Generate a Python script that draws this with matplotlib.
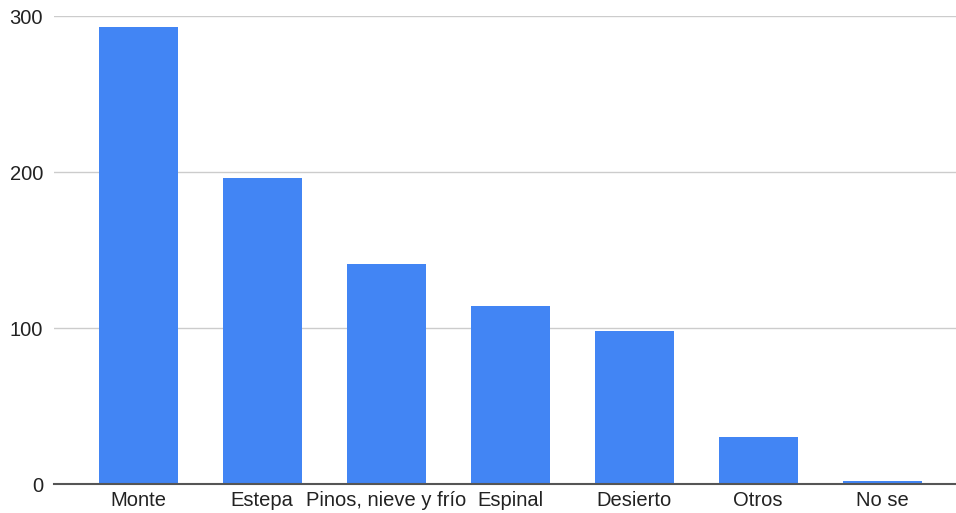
import matplotlib
matplotlib.use("Agg")
import matplotlib.pyplot as plt

categories = ["Monte", "Estepa", "Pinos, nieve y frío", "Espinal", "Desierto", "Otros", "No se"]
values = [293, 196, 141, 114, 98, 30, 2]
yticks = [0, 100, 200, 300]

plt.rcParams['font.family'] = ['Liberation Sans', 'DejaVu Sans']

fig = plt.figure(figsize=(9.56, 5.13), dpi=100)
ax = fig.add_axes([54/956, 1-484/513, 1-54/956, (484-16)/513])
x = list(range(len(categories)))
ax.bar([i + 0.008 for i in x], values, width=0.637, color="#4285F4", zorder=3)
ax.set_xlim(-0.677, 6.597)
ax.set_ylim(0, 300)
ax.set_yticks(yticks)
ax.set_yticklabels([str(v) for v in yticks], fontsize=14.5, color="#222222")
ax.set_xticks(x)
ax.set_xticklabels(categories, fontsize=14.5, color="#222222")
ax.tick_params(axis='y', length=0, pad=8)
ax.tick_params(axis='x', length=0, pad=5)
ax.grid(axis='y', color="#cccccc", linewidth=1, zorder=0)
for s in ["top", "right", "left"]:
    ax.spines[s].set_visible(False)
ax.spines["bottom"].set_color("#555555")
ax.spines["bottom"].set_linewidth(1.5)
ax.spines["bottom"].set_zorder(4)
fig.savefig("out.png", dpi=100)
